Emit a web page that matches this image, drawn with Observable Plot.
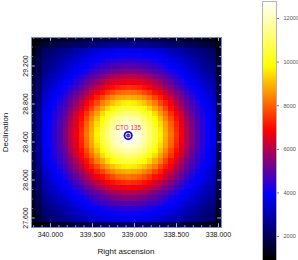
<!DOCTYPE html>
<html>
<head>
<meta charset="utf-8">
<script src="https://cdn.jsdelivr.net/npm/d3@7"></script>
<script src="https://cdn.jsdelivr.net/npm/@observablehq/plot@0.6"></script>
<style>
html,body{margin:0;padding:0;background:#fff;overflow:hidden}
#wrap{position:relative;width:298px;height:260px}
#wrap svg{position:absolute;left:0;top:0;background:transparent}
</style>
</head>
<body>
<div id="wrap"></div>
<script>
// Counts in hundreds, one quadrant around the peak cell; rows/columns = cells away from the peak.
const quadrant = [
[128,126,123,118,112,105,97,89,82,74,67,60,54,49,44,40,37,27,19],
[126,125,122,117,111,104,96,88,81,73,66,60,54,48,44,40,37,27,19],
[123,122,119,115,108,102,94,87,80,72,65,59,53,48,43,40,37,27,19],
[118,117,115,110,105,98,91,84,77,70,64,58,52,47,43,39,36,27,19],
[112,111,108,105,100,94,87,81,74,68,62,56,50,46,42,38,36,26,19],
[105,104,102,98,94,88,83,76,70,64,59,53,49,45,41,38,35,26,18],
[97,96,94,91,87,83,77,72,67,61,56,51,47,43,39,37,34,25,18],
[89,88,87,84,81,76,72,67,62,57,53,49,45,41,38,35,33,24,17],
[82,81,80,77,74,70,67,62,58,54,50,46,42,39,37,34,31,23,17],
[74,73,72,70,68,64,61,57,54,50,46,43,40,38,35,33,30,22,16],
[67,66,65,64,62,59,56,53,50,46,44,40,38,36,33,31,29,22,16],
[60,60,59,58,56,53,51,49,46,43,40,38,36,34,32,30,27,21,15],
[54,54,53,52,50,49,47,45,42,40,38,36,34,32,30,28,26,20,14],
[49,48,48,47,46,45,43,41,39,38,36,34,32,30,28,26,25,19,14],
[44,44,43,43,42,41,39,38,37,35,33,32,30,28,26,25,23,18,13],
[40,40,40,39,38,38,37,35,34,33,31,30,28,26,25,24,22,17,12],
[37,37,37,36,36,35,34,33,31,30,29,27,26,25,23,22,21,16,11],
[27,27,27,27,26,26,25,24,23,22,22,21,20,19,18,17,16,14,10],
[19,19,19,19,19,18,18,17,17,16,16,15,14,14,13,12,11,10,9]
];
const raRange = [340.226, 337.964];
const decRange = [27.5, 29.5];
const gridSize = 36;
const peakIndex = 18;
const raMajor = [340, 339.5, 339, 338.5, 338];
const raMinor = [340.2,340.1,339.9,339.8,339.7,339.6,339.4,339.3,339.2,339.1,338.9,338.8,338.7,338.6,338.4,338.3,338.2,338.1];
const decMajor = [27.6, 28, 28.4, 28.8, 29.2];
const decMinor = [27.7,27.8,27.9,28.1,28.2,28.3,28.5,28.6,28.7,28.9,29,29.1,29.3,29.4];
const source = [{ra:339.075, dec:28.468, name:"CTO 135"}];
const colorStops = [950, 3900, 6850, 9800, 12780];
const colorRange = ["#000000", "#0000ff", "#ff0000", "#ffff00", "#ffffff"];
const barTicks = [2000, 4000, 6000, 8000, 10000, 12000];
const barDomain = [900, 12780];

const color = {type:"linear", domain:colorStops, range:colorRange, interpolate:"rgb", clamp:true};
const dRa = (raRange[1]-raRange[0])/gridSize;
const dDec = (decRange[1]-decRange[0])/gridSize;
// the outermost row and column on each side read as the darkest band of the quadrant
const away = i => i === gridSize-1 ? quadrant.length-1 : Math.abs(i-peakIndex);
const cells = [];
for (let r=0;r<gridSize;r++) for (let c=0;c<gridSize;c++) {
  cells.push({
    x1: raRange[0]+c*dRa, x2: raRange[0]+(c+1)*dRa,
    y1: decRange[1]-r*dDec, y2: decRange[1]-(r+1)*dDec,
    v: quadrant[away(r)][away(c)]*100
  });
}
const tickColor = "#a9b2e8";
const font = "'Liberation Sans', Arial, sans-serif";
const main = Plot.plot({
  width:298, height:260,
  marginLeft:31, marginRight:77, marginTop:37, marginBottom:33,
  style:{fontFamily:font, background:"transparent"},
  x:{domain:raRange, axis:null},
  y:{domain:decRange, axis:null},
  color,
  marks:[
    Plot.rect(cells,{x1:"x1",x2:"x2",y1:"y1",y2:"y2",fill:"v",inset:0,shapeRendering:"crispEdges"}),
    Plot.ruleX(raMinor,{x:d=>d,y1:decRange[0],y2:decRange[0]+0.018,stroke:tickColor,strokeWidth:1}),
    Plot.ruleX(raMinor,{x:d=>d,y1:decRange[1],y2:decRange[1]-0.018,stroke:tickColor,strokeWidth:1}),
    Plot.ruleX(raMajor,{x:d=>d,y1:decRange[0],y2:decRange[0]+0.04,stroke:tickColor,strokeWidth:1}),
    Plot.ruleX(raMajor,{x:d=>d,y1:decRange[1],y2:decRange[1]-0.04,stroke:tickColor,strokeWidth:1}),
    Plot.ruleY(decMinor,{y:d=>d,x1:raRange[0],x2:raRange[0]-0.02,stroke:tickColor,strokeWidth:1}),
    Plot.ruleY(decMinor,{y:d=>d,x1:raRange[1],x2:raRange[1]+0.02,stroke:tickColor,strokeWidth:1}),
    Plot.ruleY(decMajor,{y:d=>d,x1:raRange[0],x2:raRange[0]-0.045,stroke:tickColor,strokeWidth:1}),
    Plot.ruleY(decMajor,{y:d=>d,x1:raRange[1],x2:raRange[1]+0.045,stroke:tickColor,strokeWidth:1}),
    Plot.frame({stroke:"#7884ee",strokeWidth:1}),
    Plot.axisX({anchor:"bottom",ticks:raMajor,tickFormat:d3.format(".3f"),tickSize:0,tickPadding:5,fontSize:7,label:null,fill:"#111"}),
    Plot.axisY({anchor:"left",ticks:decMajor,tickFormat:d3.format(".3f"),tickSize:0,tickPadding:4,tickRotate:-90,fontSize:7,label:null,fill:"#111",textAnchor:"middle"}),
    Plot.dot(source,{x:"ra",y:"dec",r:3.7,stroke:"#0a14e0",strokeWidth:1.8,fill:"#fff"}),
    Plot.dot(source,{x:"ra",y:"dec",r:1.5,stroke:"#0a14e0",strokeWidth:1,fill:"#ff3030"}),
    Plot.text(source,{x:"ra",y:"dec",text:"name",dy:-7.5,fill:"#ff2a2a",fontSize:6.3,textAnchor:"middle"})
  ]
});
document.getElementById("wrap").appendChild(main);

// axis titles as a transparent overlay
const titles = Plot.plot({
  width:298, height:260, margin:0,
  style:{fontFamily:font, background:"transparent"},
  x:{domain:[0,298],axis:null}, y:{domain:[260,0],axis:null},
  marks:[
    Plot.text(["Right ascension"],{x:[125.5],y:[251],text:d=>d,fontSize:8,fill:"#111"}),
    Plot.text(["Declination"],{x:[5],y:[132],text:d=>d,fontSize:8,fill:"#111",rotate:-90})
  ]
});
document.getElementById("wrap").appendChild(titles);

const levels = d3.range(barDomain[0], barDomain[1], 30);
const bar = Plot.plot({
  width:298, height:260,
  marginLeft:262, marginRight:22, marginTop:1, marginBottom:0,
  style:{fontFamily:font, background:"transparent"},
  x:{domain:[0,1],axis:null},
  y:{domain:barDomain,axis:null},
  color,
  marks:[
    Plot.rect(levels,{x1:0,x2:1,y1:d=>d,y2:d=>d+30,fill:d=>d,inset:0,shapeRendering:"crispEdges"}),
    Plot.frame({stroke:"#b5b5b0",strokeWidth:1}),
    Plot.axisY({anchor:"right",ticks:barTicks,tickFormat:d=>String(d),tickSize:2,tickPadding:5,fontSize:5.6,label:null,fill:"#555",stroke:"#777"})
  ]
});
document.getElementById("wrap").appendChild(bar);
</script>
</body>
</html>
